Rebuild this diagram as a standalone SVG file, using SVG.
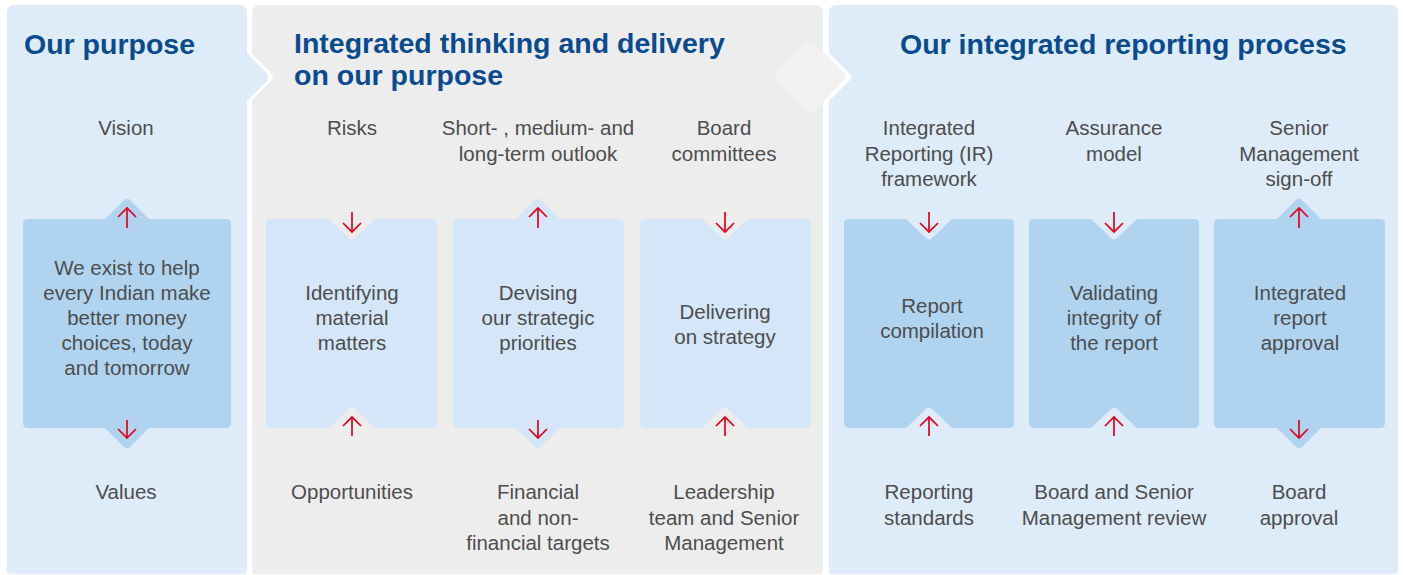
<svg xmlns="http://www.w3.org/2000/svg" width="1403" height="575" viewBox="0 0 1403 575">
  <style>
    .title { font-family: "Liberation Sans", Arial, sans-serif; font-weight: bold; font-size: 28.5px; fill: #0b4a8e; }
    .lbl { font-family: "Liberation Sans", Arial, sans-serif; font-size: 20.5px; fill: #4d4d4d; text-anchor: middle; }
    .pan-blue { fill: #deebf8; }
    .pan-grey { fill: #ededed; }
    .box-dark { fill: #b0d4f0; }
    .box-light { fill: #d4e6f7; }
    .arr { stroke: #e2001a; stroke-width: 1.7; fill: none; marker-end: url(#head); }
  </style>
  <defs>
    <marker id="head" markerUnits="userSpaceOnUse" markerWidth="12" markerHeight="20" refX="9" refY="9" orient="auto" overflow="visible">
      <path d="M0,0 L9,9 L0,18" fill="none" stroke="#e2001a" stroke-width="1.7"/>
    </marker>
  </defs>

  <rect width="1403" height="575" fill="#ffffff"/>

  <!-- Panels -->
  <g id="panel-purpose">
    <path class="pan-blue" d="M15,5 H239 Q247,5 247,13 V53 L266,72 Q270,77 266,82 L247,101 V571 Q247,574 244,574 H10 Q7,574 7,571 V13 Q7,5 15,5 Z"/>
    <text class="title" x="24" y="54">Our purpose</text>
  </g>
  <g id="panel-thinking">
    <path class="pan-grey" d="M260,5 H815 Q823,5 823,13 V571 Q823,574 820,574 H255 Q252,574 252,571 V100 L271,81 Q275,77 271,73 L252,54 V13 Q252,5 260,5 Z"/>
    <!-- lighter chevron on the right-hand edge -->
    <path fill="#f2f2f2" d="M777,72 L805,44 Q810,39 815,44 L843,72 Q848,77 843,82 L815,110 Q810,115 805,110 L777,82 Q772,77 777,72 Z"/>
    <text class="title" x="294" y="53">Integrated thinking and delivery</text>
    <text class="title" x="294" y="85">on our purpose</text>
  </g>
  <g id="panel-reporting">
    <path class="pan-blue" d="M837,5 H1390 Q1398,5 1398,13 V571 Q1398,574 1395,574 H832 Q829,574 829,571 V101 L849,81 Q853,77 849,73 L829,53 V13 Q829,5 837,5 Z"/>
    <text class="title" x="900" y="54">Our integrated reporting process</text>
  </g>

  <!-- Purpose column -->
  <g id="vision"><text class="lbl" x="126" y="135">Vision</text></g>
  <g id="purpose-box">
    <path class="box-dark" d="M28,219 H105 L124,200 Q127,197 130,200 L149,219 H226 Q231,219 231,224 V423 Q231,428 226,428 H149 L130,447 Q127,450 124,447 L105,428 H28 Q23,428 23,423 V224 Q23,219 28,219 Z"/>
    <text class="lbl" x="127" y="275">We exist to help</text>
    <text class="lbl" x="127" y="300">every Indian make</text>
    <text class="lbl" x="127" y="325">better money</text>
    <text class="lbl" x="127" y="350">choices, today</text>
    <text class="lbl" x="127" y="375">and tomorrow</text>
  </g>
  <g id="values"><text class="lbl" x="126" y="499">Values</text></g>

  <!-- Integrated thinking column -->
  <g id="risks"><text class="lbl" x="352" y="135">Risks</text></g>
  <g id="outlook">
    <text class="lbl" x="538" y="135">Short- , medium- and</text>
    <text class="lbl" x="538" y="161">long-term outlook</text>
  </g>
  <g id="board-committees">
    <text class="lbl" x="724" y="135">Board</text>
    <text class="lbl" x="724" y="161">committees</text>
  </g>

  <g id="identifying">
    <path class="box-light" d="M271,219 H329 L349,238 Q352,241 355,238 L375,219 H432 Q437,219 437,224 V423 Q437,428 432,428 H375 L355,409 Q352,406 349,409 L329,428 H271 Q266,428 266,423 V224 Q266,219 271,219 Z"/>
    <text class="lbl" x="352" y="300">Identifying</text>
    <text class="lbl" x="352" y="325">material</text>
    <text class="lbl" x="352" y="350">matters</text>
  </g>
  <g id="devising">
    <path class="box-light" d="M458,219 H516 L535,200 Q538,197 541,200 L560,219 H619 Q624,219 624,224 V423 Q624,428 619,428 H560 L541,447 Q538,450 535,447 L516,428 H458 Q453,428 453,423 V224 Q453,219 458,219 Z"/>
    <text class="lbl" x="538" y="300">Devising</text>
    <text class="lbl" x="538" y="325">our strategic</text>
    <text class="lbl" x="538" y="350">priorities</text>
  </g>
  <g id="delivering">
    <path class="box-light" d="M645,219 H702 L722,238 Q725,241 728,238 L748,219 H806 Q811,219 811,224 V423 Q811,428 806,428 H748 L728,409 Q725,406 722,409 L702,428 H645 Q640,428 640,423 V224 Q640,219 645,219 Z"/>
    <text class="lbl" x="725" y="319">Delivering</text>
    <text class="lbl" x="725" y="344">on strategy</text>
  </g>

  <g id="opportunities"><text class="lbl" x="352" y="499">Opportunities</text></g>
  <g id="targets">
    <text class="lbl" x="538" y="499">Financial</text>
    <text class="lbl" x="538" y="525">and non-</text>
    <text class="lbl" x="538" y="550">financial targets</text>
  </g>
  <g id="leadership">
    <text class="lbl" x="724" y="499">Leadership</text>
    <text class="lbl" x="724" y="525">team and Senior</text>
    <text class="lbl" x="724" y="550">Management</text>
  </g>

  <!-- Reporting process column -->
  <g id="ir-framework">
    <text class="lbl" x="929" y="135">Integrated</text>
    <text class="lbl" x="929" y="161">Reporting (IR)</text>
    <text class="lbl" x="929" y="186">framework</text>
  </g>
  <g id="assurance">
    <text class="lbl" x="1114" y="135">Assurance</text>
    <text class="lbl" x="1114" y="161">model</text>
  </g>
  <g id="sign-off">
    <text class="lbl" x="1299" y="135">Senior</text>
    <text class="lbl" x="1299" y="161">Management</text>
    <text class="lbl" x="1299" y="186">sign-off</text>
  </g>

  <g id="compilation">
    <path class="box-dark" d="M849,219 H906 L926,238 Q929,241 932,238 L952,219 H1009 Q1014,219 1014,224 V423 Q1014,428 1009,428 H952 L932,409 Q929,406 926,409 L906,428 H849 Q844,428 844,423 V224 Q844,219 849,219 Z"/>
    <text class="lbl" x="932" y="313">Report</text>
    <text class="lbl" x="932" y="338">compilation</text>
  </g>
  <g id="validating">
    <path class="box-dark" d="M1034,219 H1091 L1111,238 Q1114,241 1117,238 L1137,219 H1194 Q1199,219 1199,224 V423 Q1199,428 1194,428 H1137 L1117,409 Q1114,406 1111,409 L1091,428 H1034 Q1029,428 1029,423 V224 Q1029,219 1034,219 Z"/>
    <text class="lbl" x="1114" y="300">Validating</text>
    <text class="lbl" x="1114" y="325">integrity of</text>
    <text class="lbl" x="1114" y="350">the report</text>
  </g>
  <g id="approval">
    <path class="box-dark" d="M1219,219 H1277 L1296,200 Q1299,197 1302,200 L1321,219 H1380 Q1385,219 1385,224 V423 Q1385,428 1380,428 H1321 L1302,447 Q1299,450 1296,447 L1277,428 H1219 Q1214,428 1214,423 V224 Q1214,219 1219,219 Z"/>
    <text class="lbl" x="1300" y="300">Integrated</text>
    <text class="lbl" x="1300" y="325">report</text>
    <text class="lbl" x="1300" y="350">approval</text>
  </g>

  <g id="standards">
    <text class="lbl" x="929" y="499">Reporting</text>
    <text class="lbl" x="929" y="525">standards</text>
  </g>
  <g id="review">
    <text class="lbl" x="1114" y="499">Board and Senior</text>
    <text class="lbl" x="1114" y="525">Management review</text>
  </g>
  <g id="board-approval">
    <text class="lbl" x="1299" y="499">Board</text>
    <text class="lbl" x="1299" y="525">approval</text>
  </g>

  <!-- Red flow arrows -->
  <g id="connectors">
    <path class="arr" d="M127,228 V208"/>
    <path class="arr" d="M127,420 V438"/>

    <path class="arr" d="M352,212 V232"/>
    <path class="arr" d="M352,436 V417"/>
    <path class="arr" d="M538,228 V208"/>
    <path class="arr" d="M538,420 V438"/>
    <path class="arr" d="M725,212 V232"/>
    <path class="arr" d="M725,436 V417"/>

    <path class="arr" d="M929,212 V232"/>
    <path class="arr" d="M929,436 V417"/>
    <path class="arr" d="M1114,212 V232"/>
    <path class="arr" d="M1114,436 V417"/>
    <path class="arr" d="M1299,228 V208"/>
    <path class="arr" d="M1299,420 V438"/>
  </g>
</svg>
